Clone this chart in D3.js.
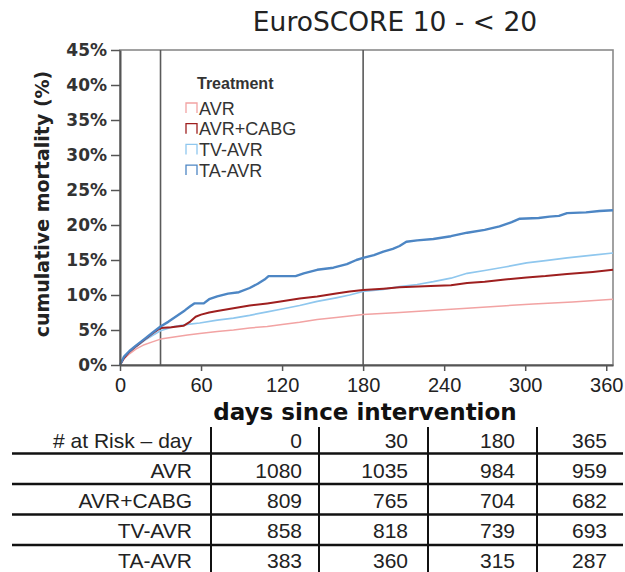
<!DOCTYPE html>
<html>
<head>
<meta charset="utf-8">
<script src="https://cdn.jsdelivr.net/npm/d3@7"></script>
<style>
  html, body { margin: 0; padding: 0; background: #fff; }
  svg { display: block; }
</style>
</head>
<body>
<svg id="chart" width="625" height="572"></svg>
<script>
// ---------------- data ----------------
const chartTitle = "EuroSCORE 10 - < 20";
const seriesNames = ["AVR", "AVR+CABG", "TV-AVR", "TA-AVR"];
const seriesColors = ["#f2a3a3", "#9e1f1f", "#8fc7ee", "#4d86c4"];
const yTicks = [0, 5, 10, 15, 20, 25, 30, 35, 40, 45];
const xTicks = [0, 60, 120, 180, 240, 300, 360];
const refDays = [30, 180];

// cumulative mortality (%) by day
const curveAVR = [[0,0],[3,0.9],[7,1.6],[12,2.3],[18,2.9],[24,3.3],[30,3.7],[40,4.0],[50,4.3],[59,4.5],[72,4.8],[84,5.0],[96,5.3],[109,5.5],[120,5.8],[133,6.1],[146,6.5],[160,6.8],[180,7.2],[207,7.5],[230,7.8],[257,8.1],[280,8.4],[306,8.7],[335,9.0],[365,9.4]];
const curveAVRCABG = [[0,0],[3,1.0],[7,1.9],[12,2.7],[18,3.6],[24,4.5],[30,5.3],[38,5.4],[47,5.6],[52,6.2],[56,6.9],[60,7.2],[66,7.5],[72,7.7],[84,8.1],[96,8.5],[109,8.8],[120,9.1],[133,9.5],[146,9.8],[160,10.2],[170,10.5],[180,10.7],[195,10.9],[207,11.1],[230,11.3],[245,11.4],[257,11.7],[270,11.9],[285,12.2],[301,12.5],[315,12.7],[331,13.0],[350,13.3],[365,13.6]];
const curveTVAVR = [[0,0],[3,1.1],[7,1.8],[12,2.6],[18,3.5],[24,4.2],[30,4.9],[40,5.5],[50,5.8],[59,6.0],[72,6.4],[84,6.7],[96,7.1],[109,7.6],[120,8.0],[133,8.5],[146,9.1],[160,9.6],[170,10.0],[180,10.5],[195,10.8],[207,11.2],[220,11.5],[232,11.9],[245,12.4],[257,13.1],[270,13.5],[285,14.0],[301,14.6],[315,14.9],[331,15.3],[350,15.7],[365,16.0]];
const curveTAAVR = [[0,0],[3,1.2],[7,2.0],[12,2.8],[18,3.7],[24,4.6],[30,5.5],[36,6.2],[42,7.0],[48,7.8],[52,8.4],[55,8.8],[62,8.8],[66,9.4],[72,9.8],[80,10.2],[88,10.4],[96,11.0],[102,11.6],[107,12.2],[110,12.7],[130,12.7],[136,13.1],[146,13.6],[158,13.9],[168,14.4],[175,15.0],[180,15.3],[188,15.7],[195,16.2],[202,16.6],[207,17.0],[212,17.6],[220,17.8],[232,18.0],[245,18.4],[257,18.9],[270,19.3],[281,19.8],[290,20.4],[296,20.9],[310,21.0],[318,21.2],[325,21.3],[331,21.7],[345,21.8],[355,22.0],[365,22.1]];

// number at risk table
const riskHeader = "# at Risk \u2013 day";
const riskDays = ["0", "30", "180", "365"];
const riskAVR = [1080, 1035, 984, 959];
const riskAVRCABG = [809, 765, 704, 682];
const riskTVAVR = [858, 818, 739, 693];
const riskTAAVR = [383, 360, 315, 287];

// ---------------- drawing ----------------
const svg = d3.select("#chart");
const x = d3.scaleLinear().domain([0, 365]).range([120, 613]);
const y = d3.scaleLinear().domain([0, 45]).range([365, 50]);

// title
svg.append("text")
  .attr("x", 395).attr("y", 31)
  .attr("text-anchor", "middle")
  .attr("font-family", "DejaVu Sans")
  .attr("font-size", 26.5)
  .attr("fill", "#222")
  .text(chartTitle);

// frame
svg.append("rect")
  .attr("x", x(0)).attr("y", y(45))
  .attr("width", x(365) - x(0)).attr("height", y(0) - y(45))
  .attr("fill", "none").attr("stroke", "#8a8a8a").attr("stroke-width", 1.6);

// reference lines
svg.selectAll("line.ref").data(refDays).join("line")
  .attr("class", "ref")
  .attr("x1", d => x(d)).attr("x2", d => x(d))
  .attr("y1", y(45)).attr("y2", y(0))
  .attr("stroke", "#5a5a5a").attr("stroke-width", 1.6);

// curves
const line = d3.line().x(d => x(d[0])).y(d => y(d[1])).curve(d3.curveLinear);
const curves = [curveAVR, curveAVRCABG, curveTVAVR, curveTAAVR];
const widths = [1.5, 2.0, 1.7, 2.4];
const drawOrder = [2, 0, 1, 3];
drawOrder.forEach(i => {
  svg.append("path")
    .datum(curves[i])
    .attr("d", line)
    .attr("fill", "none")
    .attr("stroke", seriesColors[i])
    .attr("stroke-width", widths[i])
    .attr("stroke-linejoin", "round");
});

// axes
const yAxis = svg.append("g")
  .attr("transform", `translate(${x(0)},0)`)
  .call(d3.axisLeft(y).tickValues(yTicks).tickFormat(d => d + "%").tickSize(9).tickSizeOuter(0).tickPadding(4));
yAxis.selectAll("text")
  .attr("font-family", "DejaVu Sans").attr("font-weight", "bold")
  .attr("font-size", 17).attr("fill", "#333");
yAxis.selectAll("line").attr("stroke", "#555").attr("stroke-width", 1.5);
yAxis.select(".domain").attr("stroke", "#555").attr("stroke-width", 2);

const xAxis = svg.append("g")
  .attr("transform", `translate(0,${y(0)})`)
  .call(d3.axisBottom(x).tickValues(xTicks).tickSize(6).tickSizeOuter(0).tickPadding(7));
xAxis.selectAll("text")
  .attr("font-family", "Liberation Sans")
  .attr("font-size", 20).attr("fill", "#222");
xAxis.selectAll("line").attr("stroke", "#555").attr("stroke-width", 1.5);
xAxis.select(".domain").attr("stroke", "#555").attr("stroke-width", 2);

// axis titles
svg.append("text")
  .attr("transform", "translate(49,204) rotate(-90)")
  .attr("text-anchor", "middle")
  .attr("font-family", "DejaVu Sans").attr("font-weight", "bold")
  .attr("font-size", 19).attr("fill", "#222")
  .text("cumulative mortality (%)");

svg.append("text")
  .attr("x", 365).attr("y", 420)
  .attr("text-anchor", "middle")
  .attr("font-family", "DejaVu Sans").attr("font-weight", "bold")
  .attr("font-size", 23).attr("fill", "#111")
  .text("days since intervention");

// legend
const legend = svg.append("g");
legend.append("text")
  .attr("x", 197).attr("y", 89)
  .attr("font-family", "Liberation Sans").attr("font-weight", "bold")
  .attr("font-size", 16).attr("fill", "#333")
  .text("Treatment");
seriesNames.forEach((name, i) => {
  const cy = 108 + i * 20.7;
  legend.append("path")
    .attr("d", `M186,${cy + 5}V${cy - 5}H197V${cy + 5}`)
    .attr("fill", "none").attr("stroke", seriesColors[i]).attr("stroke-width", 1.3);
  legend.append("text")
    .attr("x", 199).attr("y", cy + 6.5)
    .attr("font-family", "Liberation Sans")
    .attr("font-size", 18).attr("fill", "#333")
    .text(name);
});

// at-risk table
const table = svg.append("g");
const colRight = [302, 408, 515, 607];
const labelRight = 192;
const rowBase = [448, 477.5, 507.5, 537.5, 567.5];
const rowLabels = [riskHeader].concat(seriesNames);
const rowValues = [riskDays, riskAVR, riskAVRCABG, riskTVAVR, riskTAAVR];

rowLabels.forEach((lab, r) => {
  table.append("text")
    .attr("x", labelRight).attr("y", rowBase[r])
    .attr("text-anchor", "end")
    .attr("font-family", "Liberation Sans")
    .attr("font-size", 21).attr("fill", "#222")
    .text(lab);
  rowValues[r].forEach((v, c) => {
    table.append("text")
      .attr("x", colRight[c]).attr("y", rowBase[r])
      .attr("text-anchor", "end")
      .attr("font-family", "Liberation Sans")
      .attr("font-size", 21).attr("fill", "#222")
      .text(v);
  });
});
// horizontal rules
[453.5, 484, 514.5, 545].forEach(yy => {
  table.append("line")
    .attr("x1", 12).attr("x2", 623).attr("y1", yy).attr("y2", yy)
    .attr("stroke", "#111").attr("stroke-width", 2.6);
});
// vertical rules
[211, 319, 428, 537].forEach(xx => {
  table.append("line")
    .attr("x1", xx).attr("x2", xx).attr("y1", 427).attr("y2", 572)
    .attr("stroke", "#111").attr("stroke-width", 2);
});
</script>
</body>
</html>
